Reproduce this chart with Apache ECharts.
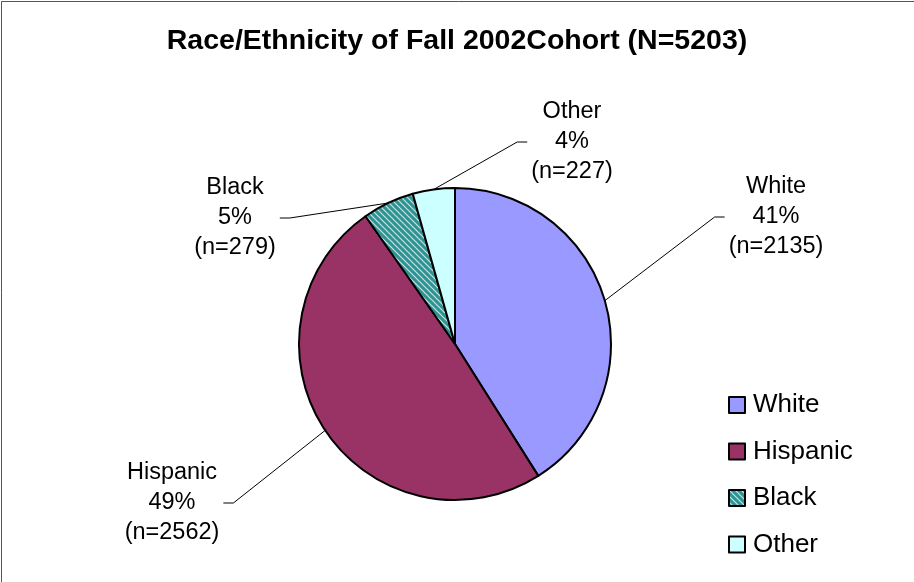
<!DOCTYPE html>
<html>
<head>
<meta charset="utf-8">
<script src="https://cdn.jsdelivr.net/npm/echarts@6/dist/echarts.min.js"></script>
<style>
  html, body { margin: 0; padding: 0; background: #fff; }
  #main { width: 914px; height: 582px; }
</style>
</head>
<body>
<div id="main"></div>
<script>
// data
const categories = ['White', 'Hispanic', 'Black', 'Other'];
const counts = [2135, 2562, 279, 227];
const titleText = 'Race/Ethnicity of Fall 2002Cohort (N=5203)';

// where the slice labels sit (label centres, px)
const labelCenters = [[776, 217], [172, 503], [235, 218], [572, 142]];

const total = counts.reduce((a, b) => a + b, 0);

// striped fill for Black, like the excel pattern
const makeStripes = () => {
  const c = document.createElement('canvas');
  c.width = 6; c.height = 6;
  const ctx = c.getContext('2d');
  ctx.fillStyle = '#2f9393';
  ctx.fillRect(0, 0, 6, 6);
  ctx.strokeStyle = 'rgba(220,245,245,0.85)';
  ctx.lineWidth = 1.2;
  ctx.beginPath();
  ctx.moveTo(-1, -1); ctx.lineTo(7, 7);
  ctx.moveTo(-4, 2); ctx.lineTo(4, 10);
  ctx.moveTo(2, -4); ctx.lineTo(10, 4);
  ctx.stroke();
  return c;
};

const colors = ['#9999ff', '#993366', { image: makeStripes(), repeat: 'repeat' }, '#ccffff'];

const myChart = echarts.init(document.getElementById('main'));

let option = {
  animation: false,
  backgroundColor: '#fff',
  title: {
    text: titleText,
    left: 'center',
    top: 22,
    textStyle: {
      fontFamily: 'Liberation Sans, Arial',
      fontSize: 28.5,
      fontWeight: 'bold',
      color: '#000'
    }
  },
  graphic: [
    {
      type: 'rect',
      shape: { x: 1.5, y: 1.5, width: 1000, height: 1000 },
      style: { fill: 'none', stroke: '#555', lineWidth: 1 },
      silent: true
    }
  ],
  legend: {
    orient: 'vertical',
    left: 723,
    top: 387,
    itemWidth: 16,
    itemHeight: 16,
    itemGap: 20.5,
    icon: 'rect',
    itemStyle: { borderColor: '#000', borderWidth: 2 },
    textStyle: {
      fontFamily: 'Liberation Sans, Arial',
      fontSize: 26,
      lineHeight: 26,
      color: '#000',
      padding: [0, 0, 0, 3]
    },
    data: categories
  },
  series: [
    {
      type: 'pie',
      center: [455, 344],
      radius: 156,
      startAngle: 90,
      clockwise: true,
      itemStyle: { borderColor: '#000', borderWidth: 2 },
      emphasis: { disabled: true },
      label: {
        show: true,
        position: 'outside',
        // excel rounds each slice on its own
        formatter: function (p) {
          return p.name + '\n' + Math.round(p.value / total * 100) + '%\n(n=' + p.value + ')';
        },
        fontFamily: 'Liberation Sans, Arial',
        fontSize: 23.5,
        lineHeight: 30,
        color: '#000',
        align: 'center'
      },
      labelLine: {
        show: true,
        lineStyle: { color: '#000', width: 1 }
      },
      labelLayout: function (params) {
        const pos = labelCenters[params.dataIndex];
        const rect = params.labelRect;
        const anchor = params.labelLinePoints ? params.labelLinePoints[0] : pos;
        const onLeft = pos[0] < anchor[0];
        const edgeX = onLeft ? pos[0] + rect.width / 2 + 4 : pos[0] - rect.width / 2 - 4;
        const turnX = onLeft ? edgeX + 10 : edgeX - 10;
        return {
          x: pos[0],
          y: pos[1],
          align: 'center',
          verticalAlign: 'middle',
          labelLinePoints: [anchor, [turnX, pos[1]], [edgeX, pos[1]]]
        };
      },
      data: categories.map((name, i) => ({
        name: name,
        value: counts[i],
        itemStyle: { color: colors[i] }
      }))
    }
  ]
};

option && myChart.setOption(option);
</script>
</body>
</html>
